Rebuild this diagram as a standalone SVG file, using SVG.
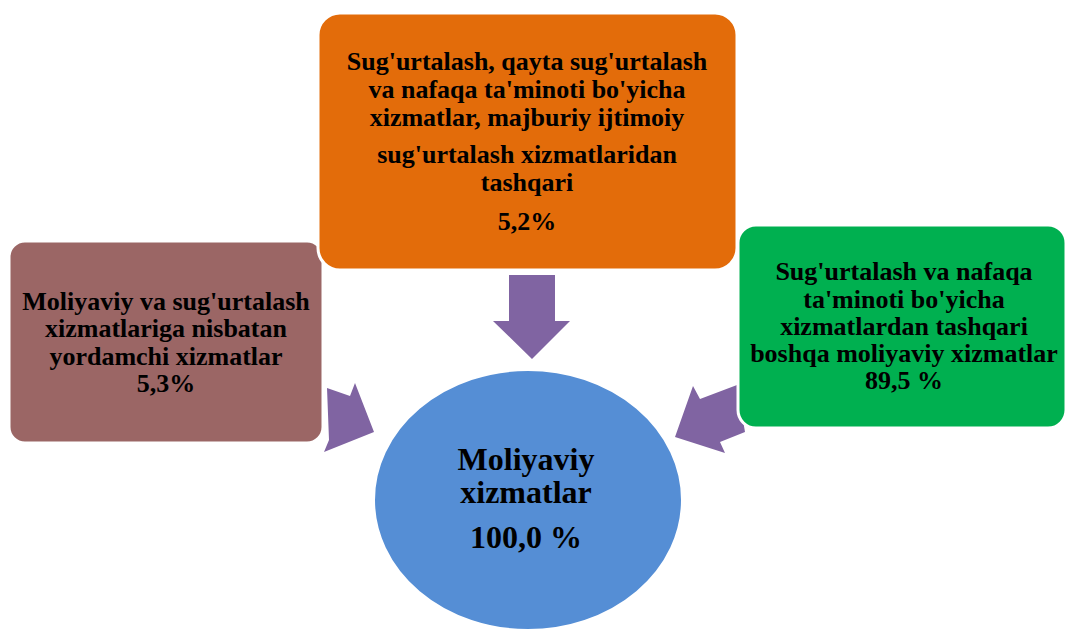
<svg xmlns="http://www.w3.org/2000/svg" width="1065" height="630" viewBox="0 0 1065 630">
<style>
.box{stroke:#fff;stroke-width:3}
.t{font-family:"Liberation Serif","Times New Roman",serif;font-weight:bold;fill:#000;text-anchor:middle;font-size:26px}
.big{font-size:32px}
.arr{fill:#8064A2}
</style>
<rect width="1065" height="630" fill="#fff"/>
<g id="connectors">
<polygon class="arr" points="509,275 555,275 555,321 570,321 532,359 493,321 509,321"/>
<polygon class="arr" points="327,388 350,396 355,383 374,432 324,452 329,440"/>
<polygon class="arr" points="693,386 700,399 737,385 745,432 720,442 725,453 675,437"/>
</g>
<g id="node-left">
<rect class="box" x="9" y="241" width="314" height="202" rx="16" fill="#9B6665"/>
<text class="t" x="166" y="310">Moliyaviy va sug'urtalash</text>
<text class="t" x="166" y="337">xizmatlariga nisbatan</text>
<text class="t" x="166" y="365">yordamchi xizmatlar</text>
<text class="t" x="166" y="392">5,3%</text>
</g>
<g id="node-right">
<rect class="box" x="738" y="225" width="328" height="203" rx="18" fill="#00B050"/>
<text class="t" x="904" y="280">Sug'urtalash va nafaqa</text>
<text class="t" x="904" y="308">ta'minoti bo'yicha</text>
<text class="t" x="904" y="335">xizmatlardan tashqari</text>
<text class="t" x="904" y="362">boshqa moliyaviy xizmatlar</text>
<text class="t" x="904" y="389">89,5 %</text>
</g>
<g id="node-top">
<rect class="box" x="318" y="13" width="419" height="257" rx="22" fill="#E36C0A"/>
<text class="t" x="527" y="70">Sug'urtalash, qayta sug'urtalash</text>
<text class="t" x="527" y="98">va nafaqa ta'minoti bo'yicha</text>
<text class="t" x="527" y="126">xizmatlar, majburiy ijtimoiy</text>
<text class="t" x="527" y="163">sug'urtalash xizmatlaridan</text>
<text class="t" x="527" y="191">tashqari</text>
<text class="t" x="527" y="230">5,2%</text>
</g>
<g id="node-center">
<ellipse cx="528" cy="500" rx="154" ry="130" fill="#558ED5" stroke="#fff" stroke-width="2"/>
<text class="t big" x="526" y="470">Moliyaviy</text>
<text class="t big" x="526" y="503">xizmatlar</text>
<text class="t big" x="526" y="548">100,0 %</text>
</g>
</svg>
